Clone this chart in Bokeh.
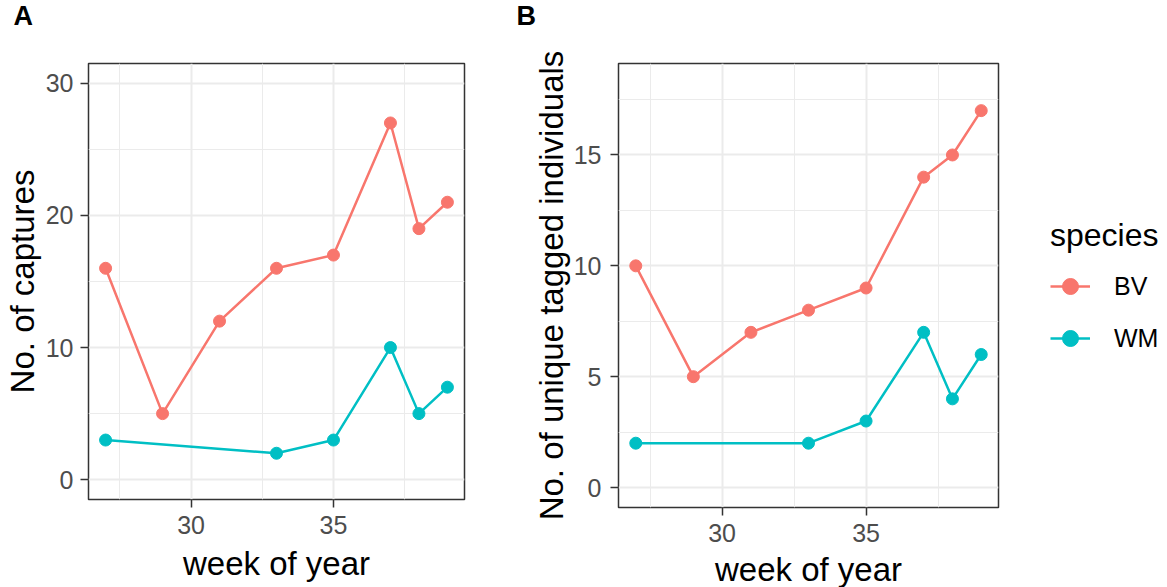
from bokeh.plotting import figure
from bokeh.models import FixedTicker, Range1d, Legend, LegendItem, Title
from bokeh.layouts import row
from bokeh.embed import file_html
from bokeh.resources import INLINE

# ---------------- data ----------------
weeks_bv = [27, 29, 31, 33, 35, 37, 38, 39]
weeks_wm = [27, 33, 35, 37, 38, 39]
bv_captures = [16, 5, 12, 16, 17, 27, 19, 21]
wm_captures = [3, 2, 3, 10, 5, 7]
bv_unique = [10, 5, 7, 8, 9, 14, 15, 17]
wm_unique = [2, 2, 3, 7, 4, 6]
species = ["BV", "WM"]

x_ticks = [30, 35]
x_minor = [27.5, 32.5, 37.5]
ya_limits = [0, 30]
ya_ticks = [0, 10, 20, 30]
ya_minor = [5, 15, 25]
yb_limits = [0, 18]
yb_ticks = [0, 5, 10, 15]
yb_minor = [2.5, 7.5, 12.5, 17.5]

BV_COLOR = "#F8766D"
WM_COLOR = "#00BFC4"
FONT = "Liberation Sans"


def expand(lo, hi, f=0.05):
    d = (hi - lo) * f
    return lo - d, hi + d


def make_panel(tag, tag_dx, ylabel, y_limits, y_ticks, y_minor, bv_vals, wm_vals,
               fw, fh, bl, br, bb, xs1, xs2, ys1, ys2, top_extra_px=0.0):
    x0, x1 = expand(min(weeks_bv + weeks_wm), max(weeks_bv + weeks_wm))
    y0, y1 = expand(*y_limits)
    # the frame may start a few px above the panel's own data area
    px_per_unit = (fh - top_extra_px) / (y1 - y0)
    y1 = y1 + top_extra_px / px_per_unit
    p = figure(frame_width=fw, frame_height=fh,
               x_range=Range1d(x0, x1), y_range=Range1d(y0, y1),
               min_border_left=bl, min_border_right=br,
               min_border_top=59, min_border_bottom=bb,
               output_backend="svg", toolbar_location=None)
    p.background_fill_color = "white"
    p.border_fill_color = "white"
    p.outline_line_color = "#333333"
    p.outline_line_width = 1.5

    # outer: panel tag; inner (next to the frame): a blank spacer title
    p.title.text = tag
    p.title.align = "left"
    p.title.offset = -bl + tag_dx
    p.title.vertical_align = "top"
    p.title.standoff = 0
    p.title.text_font = FONT
    p.title.text_font_size = "27px"
    p.title.text_font_style = "bold"
    p.title.text_color = "black"
    p.add_layout(Title(text=" ", text_font_size="10px", standoff=18), "above")

    p.xaxis.ticker = FixedTicker(ticks=x_ticks, minor_ticks=x_minor)
    p.yaxis.ticker = FixedTicker(ticks=y_ticks, minor_ticks=y_minor)
    p.xaxis.axis_label = "week of year"
    p.yaxis.axis_label = ylabel
    for ax in (p.xaxis, p.yaxis):
        ax.axis_line_color = None
        ax.major_tick_line_color = "#333333"
        ax.major_tick_line_width = 1.5
        ax.major_tick_in = 0
        ax.major_tick_out = 8
        ax.minor_tick_line_color = None
        ax.major_label_text_font = FONT
        ax.major_label_text_font_size = "25px"
        ax.major_label_text_color = "#4D4D4D"
        ax.axis_label_text_font = FONT
        ax.axis_label_text_font_size = "33px"
        ax.axis_label_text_font_style = "normal"
        ax.axis_label_text_color = "black"
    p.xaxis.major_label_standoff = xs1
    p.xaxis.axis_label_standoff = xs2
    p.yaxis.major_label_standoff = ys1
    p.yaxis.axis_label_standoff = ys2
    for g in (p.xgrid, p.ygrid):
        g.grid_line_color = "#EBEBEB"
        g.grid_line_width = 2
        g.minor_grid_line_color = "#EBEBEB"
        g.minor_grid_line_width = 1
    lb = p.line(weeks_bv, bv_vals, line_color=BV_COLOR, line_width=2.5)
    sb = p.scatter(weeks_bv, bv_vals, size=12, color=BV_COLOR)
    lw = p.line(weeks_wm, wm_vals, line_color=WM_COLOR, line_width=2.5)
    sw = p.scatter(weeks_wm, wm_vals, size=12, color=WM_COLOR)
    return p, [(lb, sb), (lw, sw)]


pA, _ = make_panel("A", 7, "No. of captures", ya_limits, ya_ticks, ya_minor,
                   bv_captures, wm_captures,
                   fw=376, fh=436, bl=82, br=42, bb=108,
                   xs1=8, xs2=8, ys1=7, ys2=2)
pB, rends = make_panel("B", 10, "No. of unique tagged individuals", yb_limits, yb_ticks, yb_minor,
                       bv_unique, wm_unique,
                       fw=380, fh=444, bl=112, br=159, bb=100,
                       xs1=8, xs2=6, ys1=9, ys2=1, top_extra_px=5.0)

items = [LegendItem(label=s, renderers=list(r)) for s, r in zip(species, rends)]
legend = Legend(items=items, title="species", location=(52, 149),
                title_text_font=FONT, title_text_font_size="32px",
                title_text_font_style="normal", title_text_color="black",
                title_standoff=12,
                label_text_font=FONT, label_text_font_size="25px",
                label_text_color="black",
                glyph_width=40, glyph_height=40, label_height=40,
                label_standoff=24, spacing=12, padding=0, margin=0,
                border_line_color=None, background_fill_alpha=0)
pB.add_layout(legend, "right")

layout = row(pA, pB)
open("out.html", "w").write(file_html(layout, INLINE))
